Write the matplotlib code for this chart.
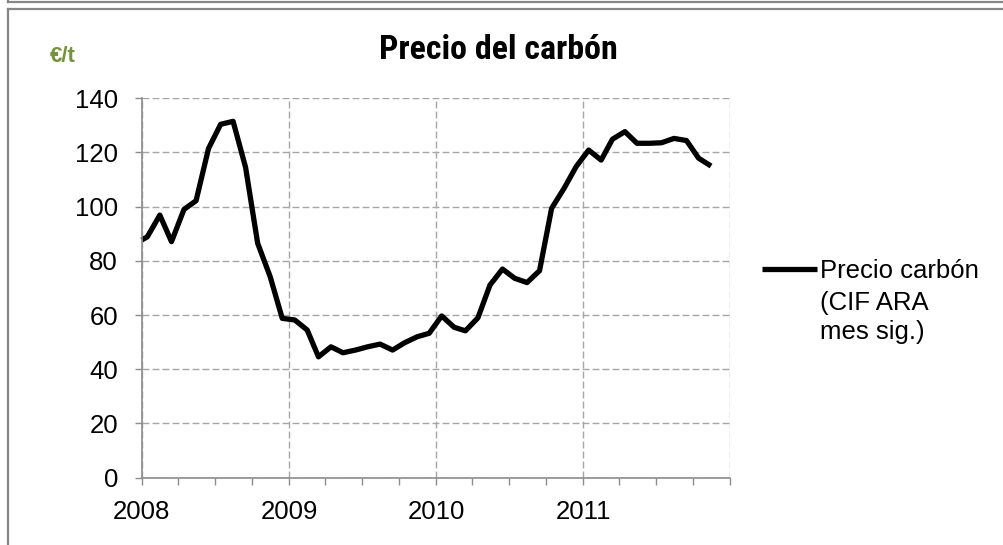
import matplotlib
matplotlib.use("Agg")
import matplotlib.pyplot as plt
import matplotlib.dates as mdates
from matplotlib.lines import Line2D
from matplotlib.ticker import FuncFormatter
import pandas as pd

# data: one point at 1 Jan 2008, then monthly mid-month values
start_value = [87.7]
prices_2008 = [88.9, 96.9, 87.1, 99.0, 102.2, 121.5, 130.4, 131.5, 114.5, 86.5, 74.2, 58.8]
prices_2009 = [58.2, 54.5, 44.6, 48.3, 46.1, 47.1, 48.3, 49.3, 47.1, 49.8, 52.0, 53.3]
prices_2010 = [59.7, 55.5, 54.2, 59.0, 71.1, 77.0, 73.6, 72.0, 76.4, 99.4, 106.8, 114.8]
prices_2011 = [120.9, 117.2, 124.9, 127.7, 123.4, 123.4, 123.6, 125.2, 124.4, 117.9, 115.0]
first_month = "2008-01-01"
y_ticks = [0, 20, 40, 60, 80, 100, 120, 140]
title = "Precio del carbón"
unit = "€/t"
legend_label = "Precio carbón"
legend_extra = "(CIF ARA\nmes sig.)"

prices = start_value + prices_2008 + prices_2009 + prices_2010 + prices_2011
n_months = len(prices) - 1
dates = [pd.Timestamp(first_month)] + list(
    pd.date_range(first_month, periods=n_months, freq="MS") + pd.Timedelta(days=14)
)

plt.rcParams["font.family"] = ["Liberation Sans", "DejaVu Sans"]

W, H = 1004, 545
fig = plt.figure(figsize=(W / 100, H / 100), dpi=100)
ax = fig.add_axes([141.7 / W, 1 - 477.7 / H, (730 - 141.7) / W, (477.7 - 98.3) / H])

ax.plot(dates, prices, color="black", lw=3.8, solid_joinstyle="round",
        solid_capstyle="butt", label=legend_label, clip_on=False)

ax.set_ylim(0, 140)
ax.set_yticks(y_ticks)
ax.set_xlim(pd.Timestamp("2008-01-01"), pd.Timestamp("2012-01-01"))
ax.xaxis.set_major_locator(mdates.YearLocator())
ax.xaxis.set_major_formatter(
    FuncFormatter(lambda v, p: "" if mdates.num2date(v).year == 2012 else str(mdates.num2date(v).year)))
ax.xaxis.set_minor_locator(mdates.MonthLocator(bymonth=[4, 7, 10]))

axis_grey = "#8c8c8c"
grid_grey = "#a6a6a6"
for side in ["top", "right"]:
    ax.spines[side].set_visible(False)
for side in ["left", "bottom"]:
    ax.spines[side].set_color(axis_grey)
    ax.spines[side].set_linewidth(1.2)
    ax.spines[side].set_zorder(3)

ax.grid(True, which="major", color=grid_grey, linestyle=(0, (5, 2.2)), linewidth=1.0)
ax.set_axisbelow(True)
ax.tick_params(axis="both", which="both", length=5, width=1.0, color=axis_grey,
               labelsize=18.5, labelcolor="black")
ax.tick_params(axis="y", pad=12)
ax.tick_params(axis="x", pad=11)

# legend: handle beside the first line of the label, rest of the label below
leg = ax.legend(loc="center left", bbox_to_anchor=(762 / W, 1 - 271 / H),
                bbox_transform=fig.transFigure, frameon=False, fontsize=18.5,
                handlelength=2.15, handletextpad=0.12, borderpad=0, borderaxespad=0)
fig.canvas.draw()
tb = leg.get_texts()[0].get_window_extent()
fig.text(tb.x0 / W, 1 - 291 / H, legend_extra, ha="left", va="top",
         fontsize=18.5, linespacing=1.27)

# the title in the original is a narrow bold face
fig.text(498 / W, 1 - 50 / H, title, ha="center", va="center",
         fontsize=24.5, fontweight="bold",
         family=["Roboto Condensed", "Liberation Sans"])
fig.text(63 / W, 1 - 56 / H, unit, ha="center", va="center",
         fontsize=16, fontweight="bold", color="#76923c")

# window frame of the screenshot
frame_grey = "#878787"
fig.add_artist(Line2D([8 / W, 1], [1 - 2 / H, 1 - 2 / H], color=frame_grey, lw=1.6))
fig.add_artist(Line2D([8 / W, 8 / W], [1, 1 - 2 / H], color=frame_grey, lw=1.6))
fig.add_artist(Line2D([8 / W, 1], [1 - 9.3 / H, 1 - 9.3 / H], color=frame_grey, lw=1.6))
fig.add_artist(Line2D([8 / W, 8 / W], [1 - 9.3 / H, 0], color=frame_grey, lw=1.6))

fig.savefig("out.png", dpi=100)
